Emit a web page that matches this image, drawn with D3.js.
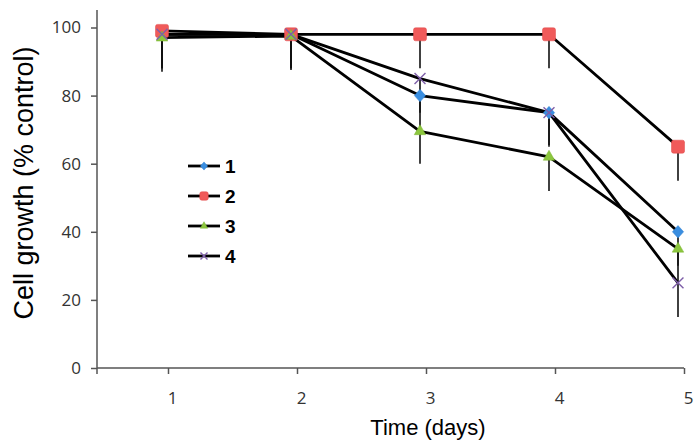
<!DOCTYPE html>
<html><head><meta charset="utf-8">
<script src="https://cdn.jsdelivr.net/npm/d3@7"></script>
<style>body{margin:0;background:#fff}svg{display:block}</style>
</head><body>
<svg id="c" width="700" height="448"></svg>
<script>
const days = [1, 2, 3, 4, 5];
const seriesNames = ["1", "2", "3", "4"];
const s1 = [98, 98, 80, 75, 40];
const s2 = [99, 98, 98, 98, 65];
const s3 = [97, 97.5, 69.5, 62, 35];
const s4 = [98, 98, 85, 75, 25];
const err1 = [10, 10, 10, 10, 10];
const err2 = [11, 10, 10, 10, 10];
const err3 = [10, 10, 9.5, 10, 10];
const err4 = [10, 10, 10, 9.5, 10];
const yTicks = [0, 20, 40, 60, 80, 100];
const xTicks = [1, 2, 3, 4, 5];

const svg = d3.select("#c");
const x = d3.scaleLinear().domain([0, 5]).range([33, 678]);
const y = d3.scaleLinear().domain([0, 100]).range([368, 27.5]);
const axisLeftX = 97, axisRightX = 684, axisTopY = 10;

const series = [
  {name: seriesNames[0], vals: s1, err: err1, color: "#3a8ee0", shape: "diamond"},
  {name: seriesNames[1], vals: s2, err: err2, color: "#f05a5a", shape: "square"},
  {name: seriesNames[2], vals: s3, err: err3, color: "#8cc63e", shape: "triangle"},
  {name: seriesNames[3], vals: s4, err: err4, color: "#7e5fa8", shape: "cross"}
];

// axes
const gy = svg.append("g").attr("transform", `translate(${axisLeftX},0)`)
  .call(d3.axisLeft(y).tickValues(yTicks).tickSize(6).tickPadding(10));
gy.select(".domain").remove();
gy.append("line").attr("x1", 0).attr("x2", 0).attr("y1", axisTopY).attr("y2", y(0))
  .attr("stroke", "#555").attr("stroke-width", 1.5);
gy.selectAll(".tick line").attr("stroke", "#555").attr("stroke-width", 1.5);
gy.selectAll(".tick text").attr("font-family", "Open Sans").attr("font-size", 17).attr("fill", "#333");

const gx = svg.append("g").attr("transform", `translate(6,${y(0)})`)
  .call(d3.axisBottom(x).tickValues(xTicks).tickFormat(d3.format("d")).tickSize(6).tickPadding(18));
gx.select(".domain").remove();
gx.selectAll(".tick line").attr("stroke", "#555").attr("stroke-width", 1.5);
gx.selectAll(".tick text").attr("font-family", "Open Sans").attr("font-size", 17).attr("fill", "#333").attr("dx", 4);
svg.append("line").attr("x1", axisLeftX).attr("x2", axisRightX).attr("y1", y(0)).attr("y2", y(0))
  .attr("stroke", "#555").attr("stroke-width", 1.5);
svg.append("line").attr("x1", axisLeftX).attr("x2", axisLeftX).attr("y1", y(0)).attr("y2", y(0) + 6)
  .attr("stroke", "#555").attr("stroke-width", 1.5);

// titles
svg.append("text").attr("transform", `translate(33,183) rotate(-90)`)
  .attr("text-anchor", "middle").attr("font-family", "Liberation Sans, Arial").attr("font-size", 27)
  .attr("fill", "#000").text("Cell growth (% control)");
svg.append("text").attr("x", 428).attr("y", 435).attr("text-anchor", "middle")
  .attr("font-family", "Liberation Sans, Arial").attr("font-size", 22).attr("fill", "#000").text("Time (days)");

// error bars
series.forEach(s => {
  svg.append("g").selectAll("line").data(days).join("line")
    .attr("x1", (d) => x(d)).attr("x2", (d) => x(d))
    .attr("y1", (d, i) => y(s.vals[i])).attr("y2", (d, i) => y(s.vals[i] - s.err[i]))
    .attr("stroke", "#111").attr("stroke-width", 1.6);
});

// lines
const line = d3.line().x(d => x(d[0])).y(d => y(d[1]));
series.forEach(s => {
  svg.append("path").datum(days.map((d, i) => [d, s.vals[i]]))
    .attr("d", line).attr("fill", "none").attr("stroke", "#000").attr("stroke-width", 2.8)
    .attr("stroke-linejoin", "round");
});

function drawMarker(g, shape, color, cx, cy, k) {
  if (shape === "diamond") {
    g.append("path").attr("d", d3.symbol(d3.symbolDiamond2, 100 * k * k)()).attr("transform", `translate(${cx},${cy}) scale(0.9,1)`)
      .attr("fill", color).attr("stroke", "#2f7fd0").attr("stroke-width", 0.5);
  } else if (shape === "square") {
    const h = 6.5 * k;
    g.append("rect").attr("x", cx - h).attr("y", cy - h).attr("width", 2 * h).attr("height", 2 * h).attr("rx", 2)
      .attr("fill", color).attr("stroke", "#e04848").attr("stroke-width", 0.5);
  } else if (shape === "triangle") {
    g.append("path").attr("d", d3.symbol(d3.symbolTriangle2, 95 * k * k)()).attr("transform", `translate(${cx},${cy})`)
      .attr("fill", color).attr("stroke", "#7ab530").attr("stroke-width", 0.5);
  } else {
    g.append("path").attr("d", d3.symbol(d3.symbolX, 80 * k * k)()).attr("transform", `translate(${cx},${cy})`)
      .attr("fill", "none").attr("stroke", color).attr("stroke-width", 1.4);
  }
}

// markers
series.forEach(s => {
  const g = svg.append("g");
  days.forEach((d, i) => drawMarker(g, s.shape, s.color, x(d), y(s.vals[i]), 1));
});

// legend
const legend = svg.append("g");
series.forEach((s, i) => {
  const ly = 166 + i * 30;
  legend.append("line").attr("x1", 188).attr("x2", 220).attr("y1", ly).attr("y2", ly)
    .attr("stroke", "#000").attr("stroke-width", 2.8);
  drawMarker(legend, s.shape, s.color, 204, ly, 0.65);
  legend.append("text").attr("x", 225).attr("y", ly + 7).attr("font-family", "Liberation Sans, Arial")
    .attr("font-weight", "bold").attr("font-size", 19).attr("fill", "#000").text(s.name);
});
</script>
</body></html>
